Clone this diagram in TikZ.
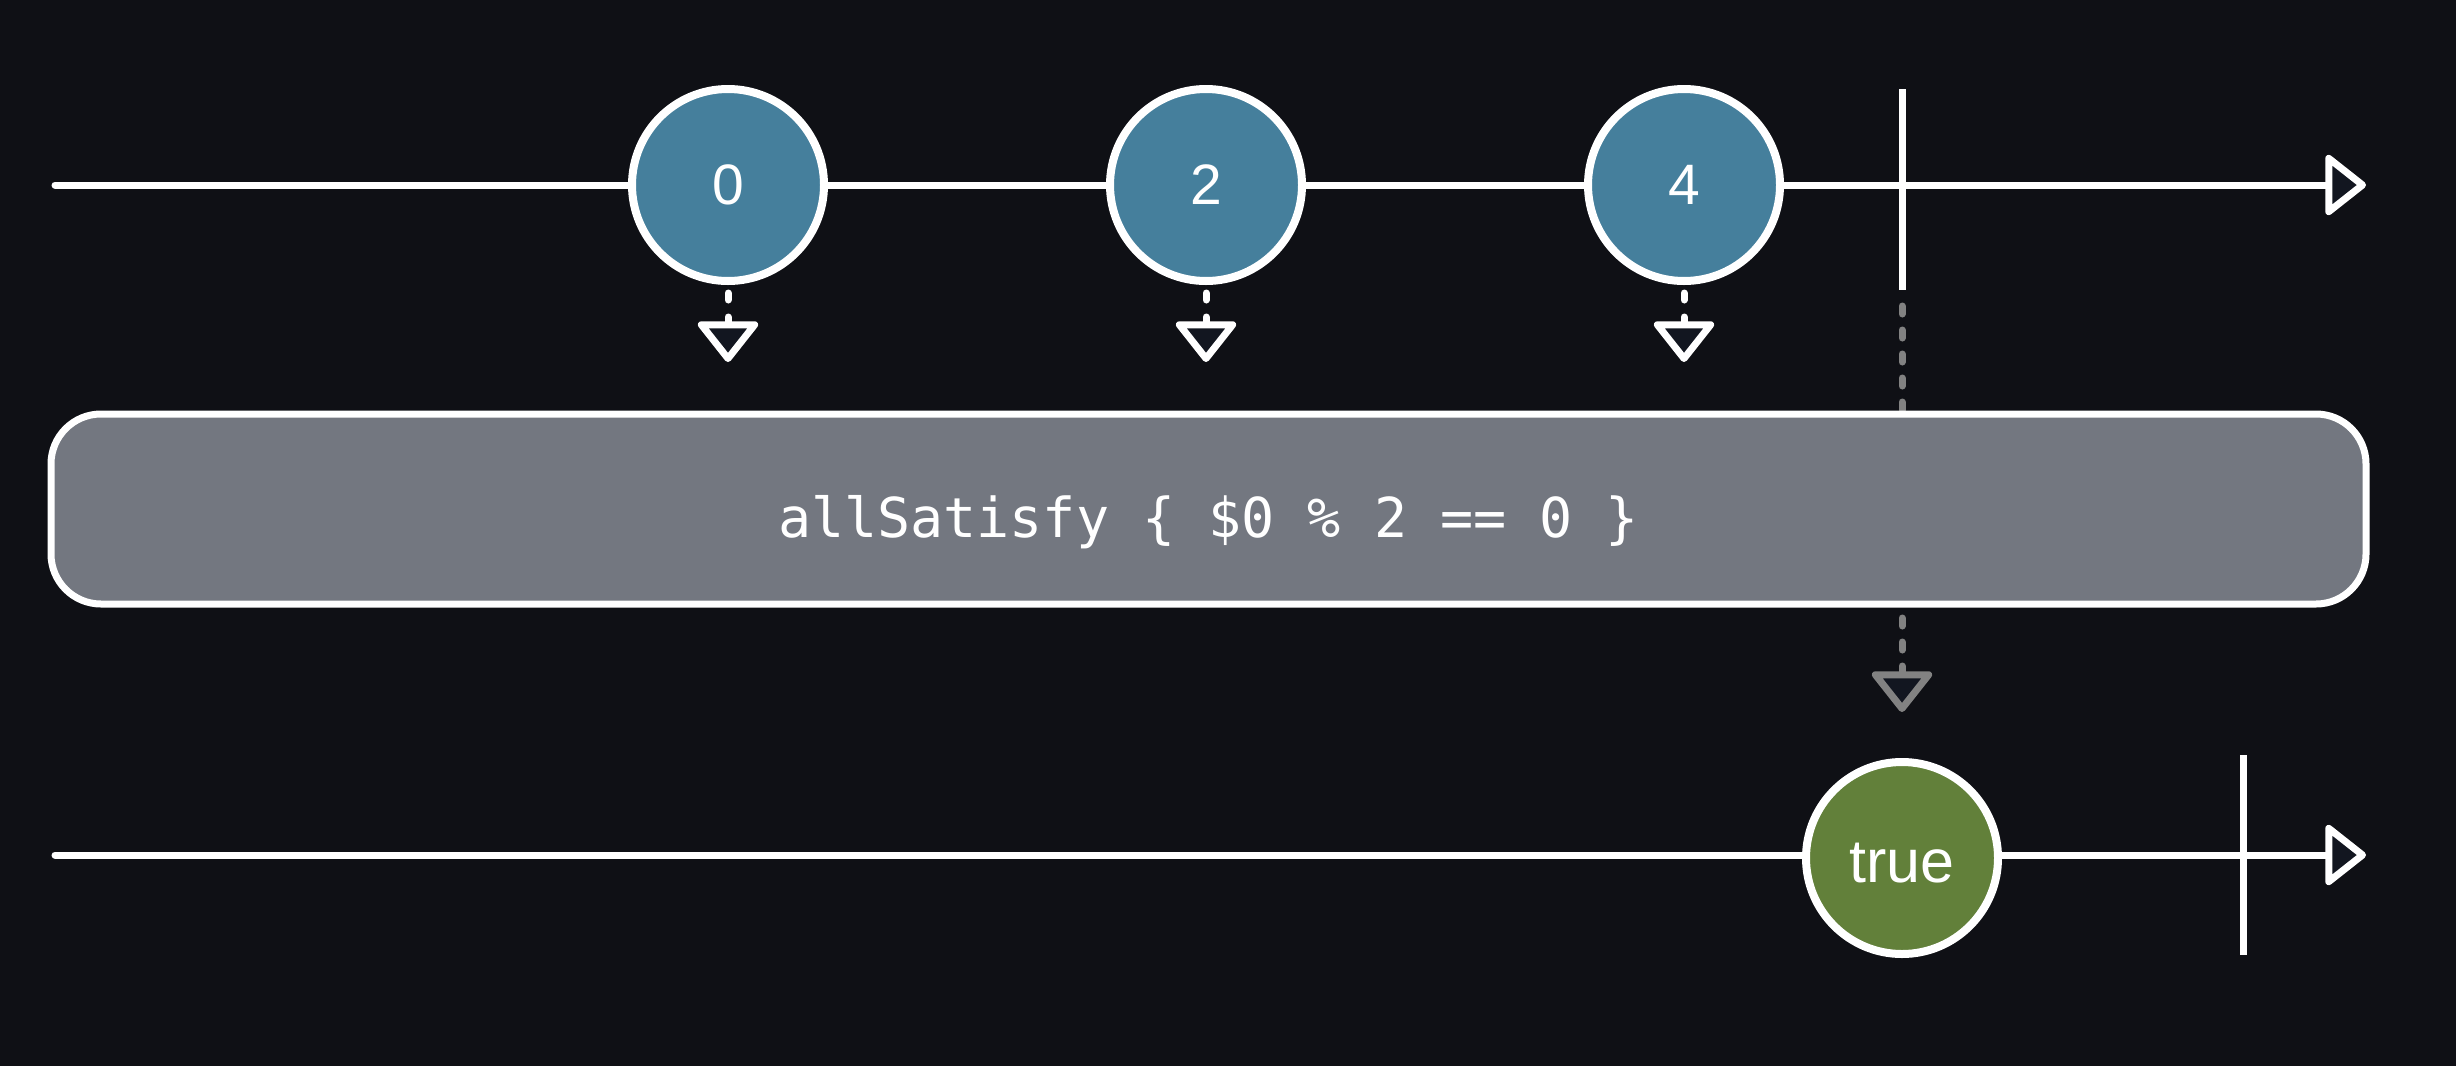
\documentclass[tikz,border=0pt]{standalone}
\usepackage{fontspec}
\setmainfont{Liberation Sans}
\newfontfamily\monofont{DejaVu Sans Mono}
\usetikzlibrary{arrows.meta}
\definecolor{bg}{HTML}{0F1015}
\definecolor{trifill}{HTML}{121620}
\definecolor{boxfill}{HTML}{737780}
\definecolor{ballblue}{HTML}{457F9C}
\definecolor{ballgreen}{HTML}{62803A}
\definecolor{dashgray}{HTML}{828282}
\begin{document}
\begin{tikzpicture}[x=0.5pt,y=-0.5pt,
  tip/.style={-{Triangle[length=21.5pt,width=33pt,round,fill=trifill]}},
  timeline/.style={draw=white,line width=3.5pt,line cap=round,tip},
  ball/.style={circle,draw=white,line width=4pt,minimum size=96pt,inner sep=0pt,
    text=white,font=\fontsize{28.5}{30}\selectfont},
  tickmark/.style={draw=white,line width=3.5pt},
  emit/.style={draw=white,line width=3.5pt,line cap=round,
    dash pattern=on 3.5pt off 8.5pt,shorten <=4pt,tip},
  graydash/.style={draw=dashgray,line width=3.5pt,line cap=round,
    dash pattern=on 4pt off 8pt,dash phase=4pt,tip},
  opbox/.style={draw=white,fill=boxfill,line width=3.5pt,rounded corners=25pt,
    minimum width=1157.5pt,minimum height=95pt,inner sep=0pt,text=white,
    text height=28pt,text depth=0pt,
    font=\monofont\fontsize{27.5}{30}\selectfont}
]
\useasboundingbox (0,0) rectangle (2456,1066);
\fill[bg] (0,0) rectangle (2456,1066);

% top timeline
\coordinate (t1s) at (55,185);
\coordinate (t1e) at (2366,185);
\draw[timeline] (t1s) -- (t1e);
\coordinate (k1top) at (1902,89);
\coordinate (k1bot) at (1902,290);

% bottom timeline
\coordinate (t2s) at (55,855);
\coordinate (t2e) at (2366,855);
\draw[timeline] (t2s) -- (t2e);
\coordinate (k2top) at (2243,755);
\coordinate (k2bot) at (2243,955);
\draw[tickmark] (k2top) -- (k2bot);

% completion connector (behind the box)
\coordinate (gtip) at (1902,712);
\draw[graydash] (k1bot) -- (gtip);
\draw[tickmark] (k1top) -- (k1bot);

% input values
\node[ball,fill=ballblue] (c0) at (728,185) {0};
\node[ball,fill=ballblue] (c2) at (1206,185) {2};
\node[ball,fill=ballblue] (c4) at (1684,185) {4};

\coordinate (a0) at (728,362);
\coordinate (a2) at (1206,362);
\coordinate (a4) at (1684,362);
\draw[emit] (c0.south) -- (a0);
\draw[emit] (c2.south) -- (a2);
\draw[emit] (c4.south) -- (a4);

% operator box
\node[opbox] (op) at (1208.5,509) {allSatisfy \{ \$0 \% 2 == 0 \}};

% output value
\node[ball,fill=ballgreen,font=\fontsize{30.5}{32}\selectfont,
  text height=24pt,text depth=0pt] (out) at (1902,858) {true};
\end{tikzpicture}
\end{document}
